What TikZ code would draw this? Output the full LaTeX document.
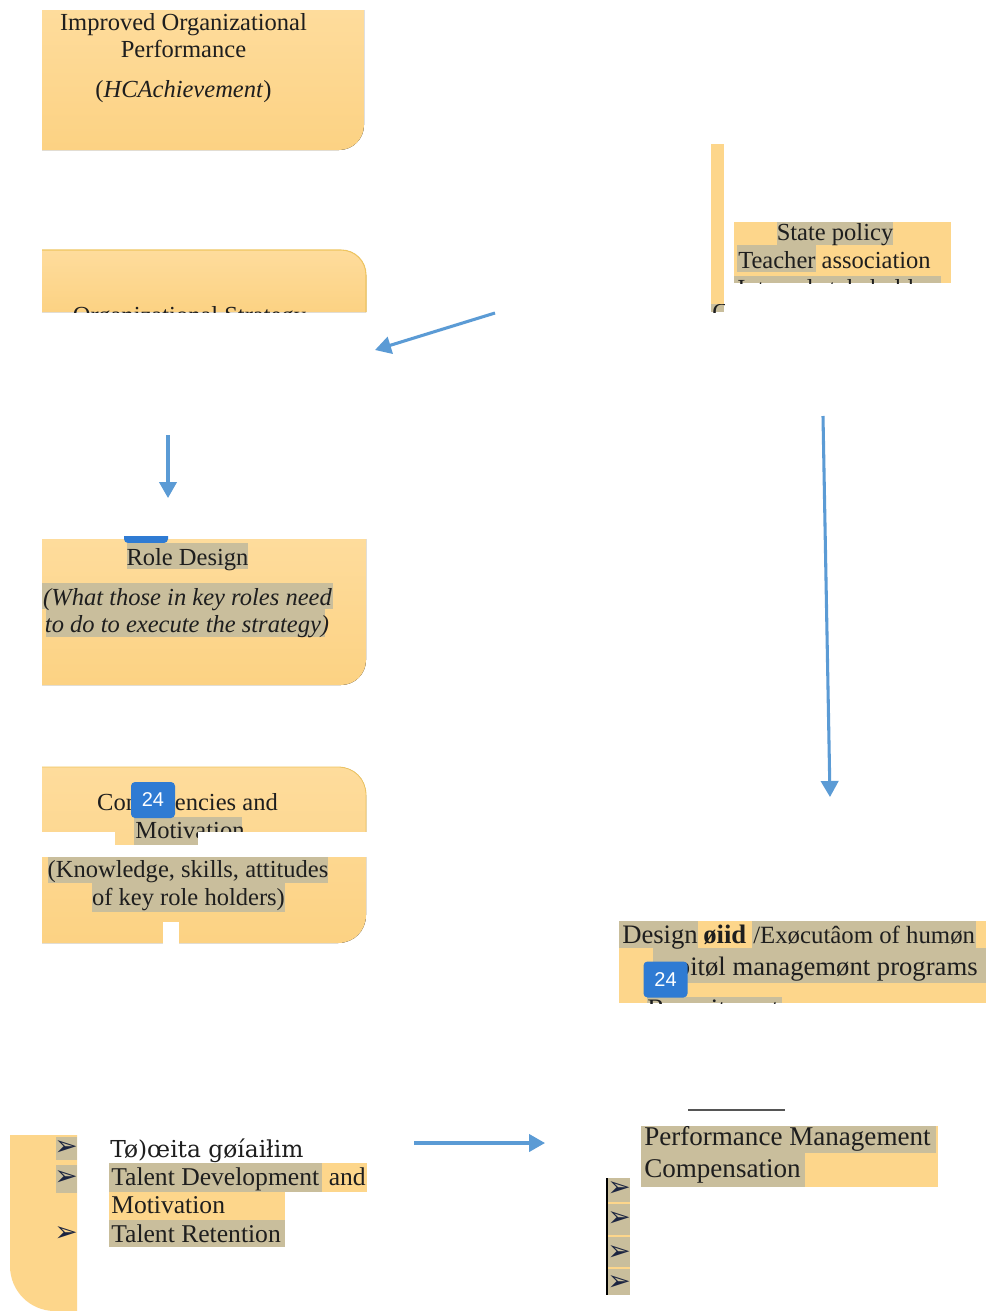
\documentclass[tikz,border=0pt]{standalone}
\usepackage{fontspec}
\setmainfont{Liberation Serif}
\newfontfamily\symfont{DejaVu Sans}
\newfontfamily\badgefont{Liberation Sans}
\newfontfamily\altserif{DejaVu Serif}
\usetikzlibrary{arrows.meta}
\definecolor{boxtop}{HTML}{FEDC9C}
\definecolor{boxbot}{HTML}{FCD283}
\definecolor{boxflat}{HTML}{FDD68B}
\definecolor{hilite}{HTML}{C9BE9C}
\definecolor{arrowblue}{HTML}{5B9BD5}
\definecolor{badgeblue}{HTML}{2F7BD3}
\definecolor{bulletnavy}{HTML}{1B2440}
\definecolor{edgeyellow}{HTML}{EFC560}
\definecolor{ink}{HTML}{1E1E1E}
\definecolor{rulegray}{HTML}{555555}
\begin{document}
\begin{tikzpicture}[x=0.75pt,y=-0.75pt,
  boxfill/.style={top color=boxtop,bottom color=boxbot},
  hl/.style={fill=hilite},
  body/.style={inner sep=0pt,text=ink,font=\fontsize{18.4}{21}\selectfont},
  bodyL/.style={inner sep=0pt,text=ink,font=\fontsize{20}{23}\selectfont},
  bodyB/.style={inner sep=0pt,text=ink,font=\fontsize{19.2}{22}\selectfont},
  badge/.style={fill=badgeblue,rounded corners=3pt,text=white,inner sep=0pt,minimum width=33pt,minimum height=27pt,font=\badgefont\fontsize{15}{15}\selectfont},
  flow/.style={draw=arrowblue,line width=2.3pt,-{Triangle[width=13pt,length=12pt]}},
  bul/.style={inner sep=0pt,text=bulletnavy,font=\symfont\fontsize{21}{21}\selectfont},
  cutout/.style={fill=white}]

\fill[white] (0,0) rectangle (988,1311);
\useasboundingbox (0,0) rectangle (988,1311);

% ---------- Box 1: Improved Organizational Performance
\fill[boxfill] (42,10) -- (364,10) -- (364,125) .. controls (364,139) and (353,150) .. (339,150) -- (42,150) -- cycle;
\node[body,anchor=base] (b1a) at (183.5,30) {Improved Organizational};
\node[body,anchor=base] (b1b) at (183.5,57) {Performance};
\node[body,anchor=base] (b1c) at (183.5,97) {(\textit{HCAchievement})};

% ---------- Box 2: Organizational Strategy (cut)
\fill[boxfill] (42,312) -- (42,250) -- (341,250) .. controls (355,250) and (366,261) .. (366,275) -- (366,312) -- cycle;
\draw[edgeyellow,line width=0.8pt] (42,250) -- (341,250) .. controls (355,250) and (366,261) .. (366,275) -- (366,312);
\begin{scope}
  \clip (42,250) rectangle (366,312);
  \node[body,anchor=base] (b2a) at (189.5,323) {Organizational Strategy};
\end{scope}

% ---------- Top right: stakeholders
\fill[boxflat] (711,144) rectangle (724,304);
\fill[hl] (711,304) rectangle (724,312);
\begin{scope}
  \clip (711,304) rectangle (724,312);
  \node[body,anchor=base west] (sc) at (712,320) {C};
\end{scope}
\fill[boxflat] (734,222) rectangle (951,283);
\fill[hl] (777,222) rectangle (893,245);
\fill[hl] (737,245) rectangle (816,272);
\fill[hl] (734,276) rectangle (941,283);
\node[body,anchor=base] (s1) at (835,240) {State policy};
\node[body,anchor=base west] (s2) at (738,268) {Teacher association};
\begin{scope}
  \clip (734,276) rectangle (951,283);
  \node[body,anchor=base west] (s3) at (737,296) {Internal stakeholders};
\end{scope}

% ---------- Role Design box
\fill[boxfill] (42,539) -- (366,539) -- (366,660) .. controls (366,674) and (355,685) .. (341,685) -- (42,685) -- cycle;
\begin{scope}
  \clip (100,536) rectangle (200,543);
  \node[badge] (bd0) at (146,525) {24};
\end{scope}
\fill[hl] (127,543) rectangle (248,569);
\fill[hl] (42,583) rectangle (333,609);
\fill[hl] (46,609) rectangle (325,637);
\node[body,anchor=base] (r1) at (187.5,565) {Role Design};
\node[body,anchor=base] (r2) at (187.5,605) {\itshape (What those in key roles need};
\node[body,anchor=base] (r3) at (187,632) {\itshape to do to execute the strategy)};

% ---------- Competencies box
\fill[boxfill] (42,767) -- (338,767) .. controls (354,767) and (366,779) .. (366,795) -- (366,915) .. controls (366,931) and (354,943) .. (338,943) -- (42,943) -- cycle;
\draw[edgeyellow,line width=0.6pt] (42,767) -- (338,767) .. controls (354,767) and (366,779) .. (366,795) -- (366,832);
\fill[hl] (134,817) rectangle (242,845);
\fill[hl] (48,857) rectangle (328,883);
\fill[hl] (92,883) rectangle (285,912);
\node[body,anchor=base] (c1) at (187.5,810) {Competencies and};
\node[body,anchor=base] (c2) at (190,838) {Motivation};
\node[body,anchor=base] (c3) at (188,877) {(Knowledge, skills, attitudes};
\node[body,anchor=base] (c4) at (188.5,905) {of key role holders)};
\fill[cutout] (40,832) rectangle (115,857);
\fill[cutout] (198,832) rectangle (370,857);
\fill[cutout] (115,845) rectangle (198,857);
\fill[cutout] (163,922) rectangle (179,945);
\node[badge] (bd1) at (153,800) {24};

% ---------- Design and Execution box
\fill[boxflat] (619,921) rectangle (986,1003);
\fill[hl] (619,921) rectangle (698,948);
\fill[hl] (752,921) rectangle (976,948);
\fill[hl] (653,948) rectangle (986,983);
\fill[hl] (647,997) rectangle (782,1003);
\node[bodyL,anchor=base west] (d1a) at (622,943) {Design};
\node[bodyL,anchor=base west] (d1b) at (703,943) {\bfseries øiid};
\node[bodyL,anchor=base west,font=\fontsize{18.6}{22}\selectfont] (d1c) at (753,943) {/Exøcutâom of humøn};
\begin{scope}
  \clip (619,948) rectangle (988,1003);
  \node[bodyL,anchor=base west] (d2) at (653,975) {capitøl managemønt programs};
\end{scope}
\begin{scope}
  \clip (619,997) rectangle (986,1003);
  \node[bodyL,anchor=base west] (d3) at (647,1017) {Recruitment};
\end{scope}
\node[badge] (bd2) at (665.5,979.5) {24};

% ---------- Bottom left list
\fill[boxflat] (10,1135) -- (77,1135) -- (77,1311) -- (55,1311) .. controls (30,1311) and (10,1291) .. (10,1266) -- cycle;
\fill[hl] (56,1137) rectangle (77,1160);
\fill[hl] (56,1165) rectangle (77,1193);
\node[bul] (lb1) at (66,1148) {➢};
\node[bul] (lb2) at (66,1178) {➢};
\node[bul] (lb3) at (66,1234) {➢};
\fill[boxflat] (109,1163) rectangle (367,1192);
\fill[boxflat] (109,1192) rectangle (285,1247);
\fill[hl] (109,1163) rectangle (322,1192);
\fill[hl] (109,1220) rectangle (285,1247);
\node[inner sep=0pt,text=ink,font=\altserif\fontsize{17.5}{20}\selectfont,anchor=base west] (l1) at (110,1157) {Tø)œita gøíaiłim};
\node[bodyB,anchor=base west] (l2a) at (111,1185) {Talent Development};
\node[bodyB,anchor=base east] (l2b) at (366,1185) {and};
\node[bodyB,anchor=base west] (l3) at (111,1213) {Motivation};
\node[bodyB,anchor=base west] (l4) at (111,1242) {Talent Retention};

% ---------- Bottom right list
\draw[rulegray,line width=1.5pt] (688,1110) -- (785,1110);
\fill[boxflat] (641,1126) rectangle (938,1187);
\fill[hl] (641,1126) rectangle (936,1153);
\fill[hl] (641,1153) rectangle (805,1187);
\node[bodyL,anchor=base west,font=\fontsize{20.3}{23}\selectfont] (p1) at (644,1145) {Performance Management};
\node[bodyL,anchor=base west,font=\fontsize{20.3}{23}\selectfont] (p2) at (644,1177) {Compensation};
\fill[hl] (606,1178) rectangle (630,1295);
\draw[boxflat,line width=0.8pt] (608,1203) -- (630,1203) (608,1236) -- (630,1236) (608,1268) -- (630,1268);
\draw[black,line width=1.2pt] (607,1178) -- (607,1295);
\node[bul] (rb1) at (619,1189) {➢};
\node[bul] (rb2) at (619,1219) {➢};
\node[bul] (rb3) at (619,1253) {➢};
\node[bul] (rb4) at (619,1283) {➢};

% ---------- Arrows
\coordinate (a1s) at (495,313);
\coordinate (a1e) at (375,350);
\draw[flow] (a1s) -- (a1e);
\coordinate (a2s) at (168,435);
\coordinate (a2e) at (168,498);
\draw[flow] (a2s) -- (a2e);
\coordinate (a3s) at (823,416);
\coordinate (a3e) at (830,797);
\draw[flow] (a3s) -- (a3e);
\coordinate (a4s) at (414,1143);
\coordinate (a4e) at (545,1143);
\draw[flow] (a4s) -- (a4e);
\end{tikzpicture}
\end{document}
